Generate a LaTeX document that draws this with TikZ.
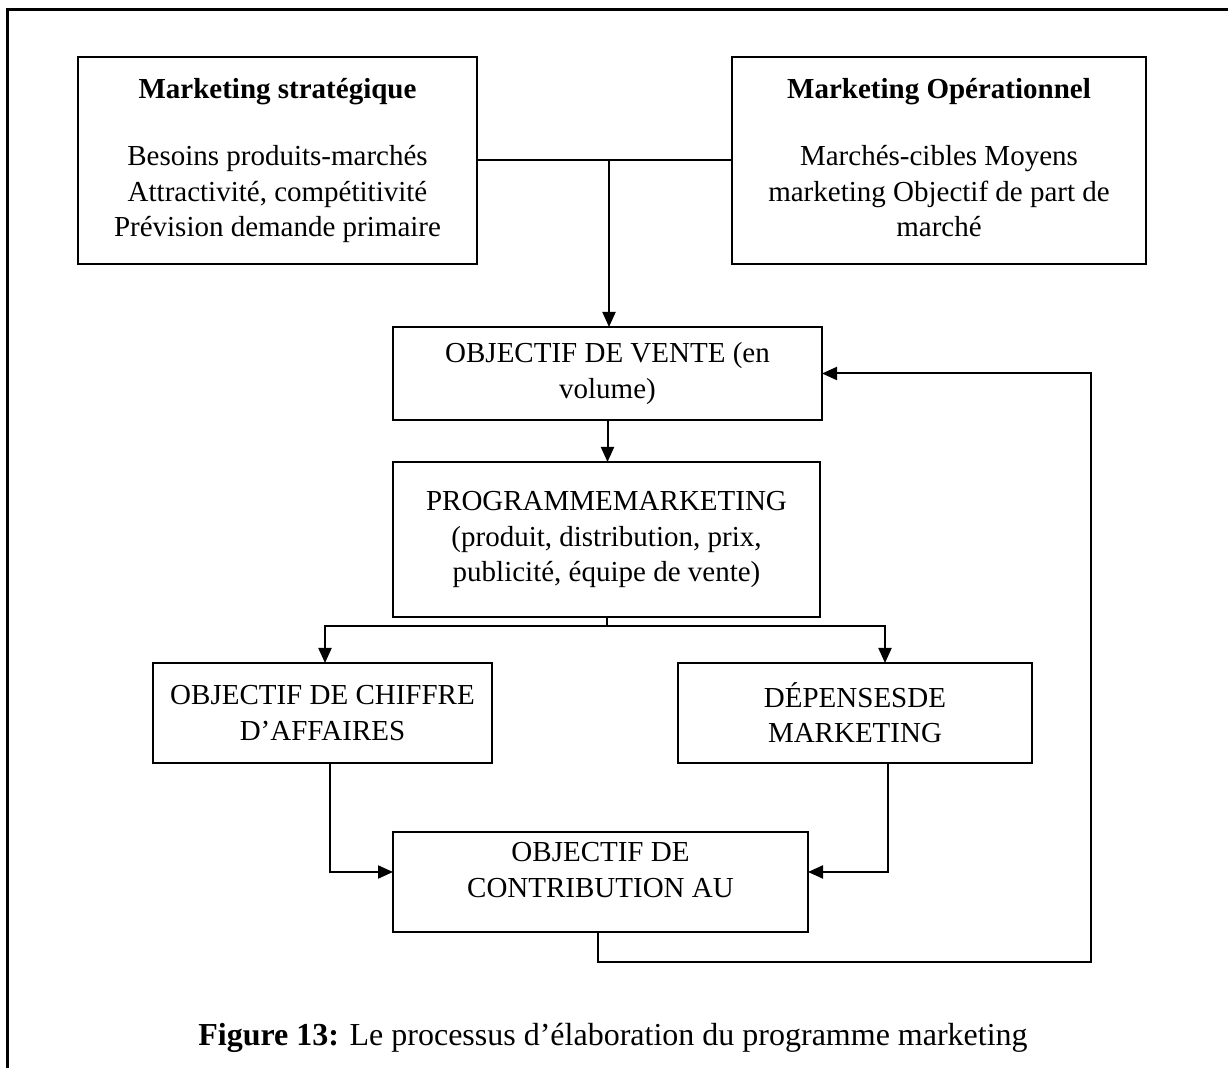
\documentclass[tikz,border=0pt]{standalone}
\usepackage{fontspec}
\setmainfont{Liberation Serif}
\usetikzlibrary{arrows.meta,calc}
\tikzset{
  box/.style={draw, line width=1pt, inner sep=0pt, outer sep=0pt, align=center,
              font=\fontsize{14.5}{17.7}\selectfont},
  txt/.style={inner sep=0pt, align=center, font=\fontsize{14.5}{17.7}\selectfont},
  link/.style={line width=1pt},
  arrow/.style={line width=1pt, -{Triangle[length=7.5pt,width=6.5pt]}},
  frame/.style={line width=1.5pt}
}
\begin{document}
\begin{tikzpicture}[x=0.5pt,y=-0.5pt]
\useasboundingbox (0,0) rectangle (1228,1068);

% outer frame (open on the right and at the bottom)
\draw[frame] (7,1068) -- (7,10) -- (1228,10);

% top blocks
\node[box, minimum width=199.5pt, minimum height=103.5pt] (A) at (277.5,160.5)
  {\textbf{Marketing stratégique}\\[16pt]Besoins produits-marchés\\Attractivité, compétitivité\\Prévision demande primaire};
\node[box, minimum width=207pt, minimum height=103.5pt] (B) at (939,160.5)
  {\textbf{Marketing Opérationnel}\\[16pt]Marchés-cibles Moyens\\marketing Objectif de part de\\marché\vphantom{p}};

% central chain
\node[box, minimum width=214.5pt, minimum height=46.5pt] (C) at (607.5,373.5)
  {OBJECTIF DE VENTE (en\\volume)};
\node[box, minimum width=213.5pt, minimum height=77.5pt] (D) at (606.5,539.5)
  {PROGRAMMEMARKETING\\(produit, distribution, prix,\\publicité, équipe de vente)};
\node[box, minimum width=169.5pt, minimum height=50pt] (E) at (322.5,713)
  {OBJECTIF DE CHIFFRE\\D’AFFAIRES};
\node[box, minimum width=177pt, minimum height=50pt] (F) at (855,713)
  {DÉPENSESDE\\MARKETING};
\node[box, minimum width=207.5pt, minimum height=50pt] (G) at (600.5,882) {};
\node[txt] (Gt) at (600.5,870) {OBJECTIF DE\\CONTRIBUTION AU};

% junction of the two top blocks
\coordinate (J) at (609,160.5);
\draw[link] (A.east) -- (B.west);
\draw[arrow] (J) -- (J |- C.north);

\draw[arrow] (C.south) -- (C.south |- D.north);

% split towards revenue and expenses
\coordinate (bl) at (325,626);
\coordinate (br) at (885,626);
\draw[arrow] (D.south) |- (bl) -- (bl |- E.north);
\draw[arrow] (D.south) |- (br) -- (br |- F.north);

% merge into contribution
\draw[arrow] ([xshift=3.75pt]E.south) |- ([yshift=5pt]G.west);
\draw[arrow] ([xshift=16.5pt]F.south) |- ([yshift=5pt]G.east);

% feedback loop
\coordinate (fb) at (1091,962);
\draw[arrow] ([xshift=-1.25pt]G.south) |- (fb) |- (C.east);

% caption
\node[txt, font=\fontsize{16}{19}\selectfont] (cap) at (613,1038)
  {\textbf{Figure 13:} Le processus d’élaboration du programme marketing};
\end{tikzpicture}
\end{document}
